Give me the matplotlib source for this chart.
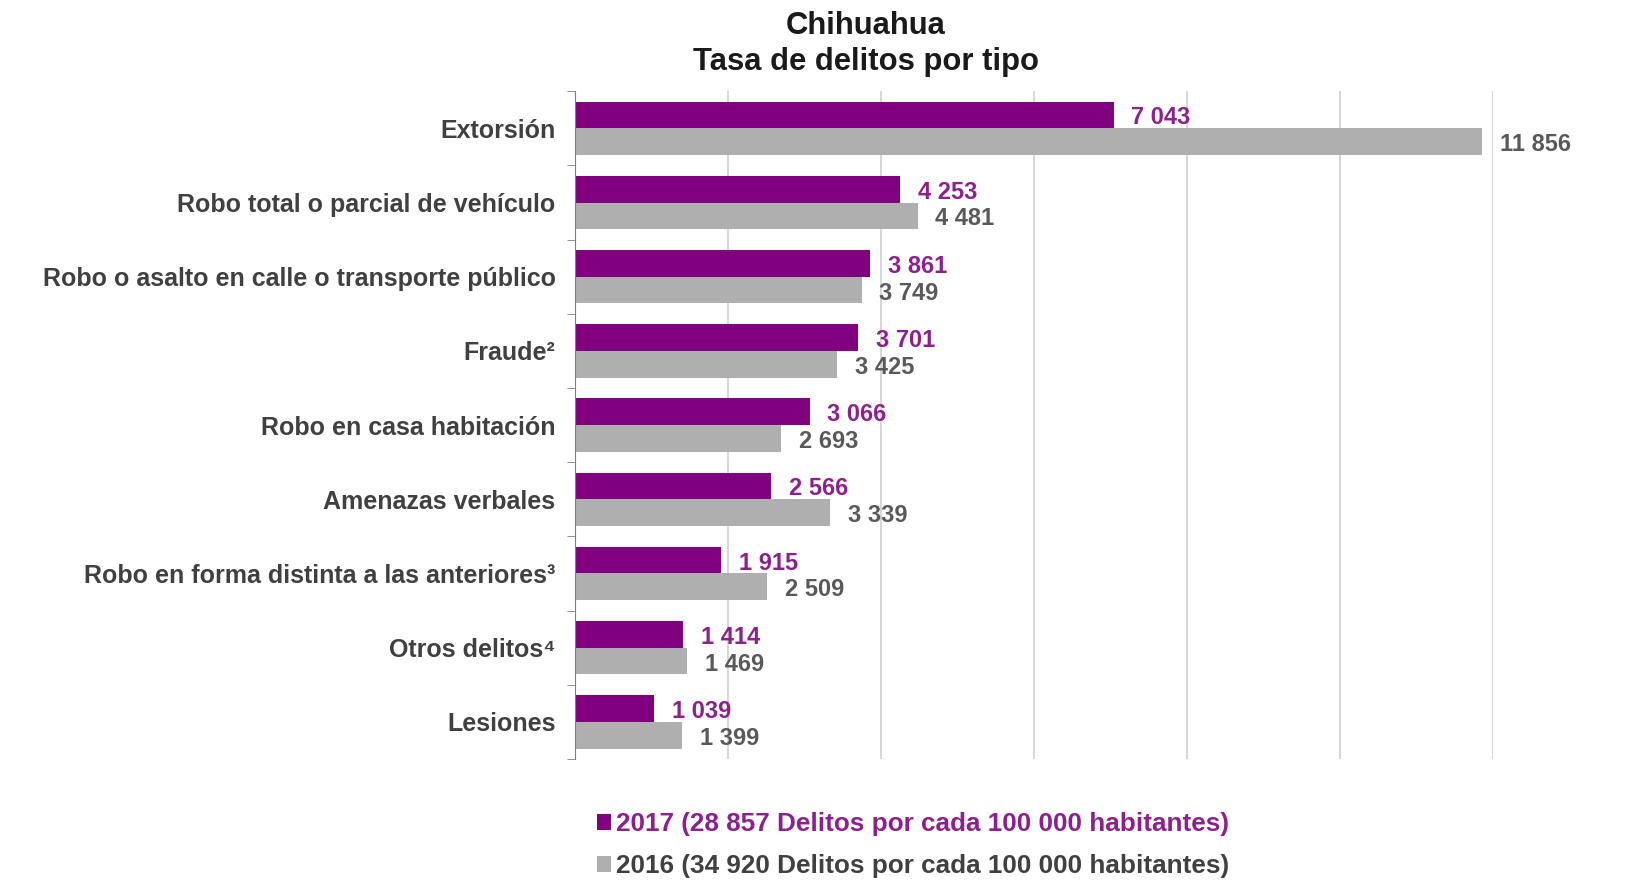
import matplotlib.pyplot as plt
import numpy as np

plt.rcParams['font.family'] = ['Liberation Sans', 'DejaVu Sans']

categorias = ["Extorsión", "Robo total o parcial de vehículo",
              "Robo o asalto en calle o transporte público", "Fraude²",
              "Robo en casa habitación", "Amenazas verbales",
              "Robo en forma distinta a las anteriores³", "Otros delitos⁴", "Lesiones"]
tasa_2017 = [7043, 4253, 3861, 3701, 3066, 2566, 1915, 1414, 1039]
tasa_2016 = [11856, 4481, 3749, 3425, 2693, 3339, 2509, 1469, 1399]
leyenda = ["2017 (28 857 Delitos por cada 100 000 habitantes)",
           "2016 (34 920 Delitos por cada 100 000 habitantes)"]

morado = "#800080"
gris = "#AFAFAF"
morado_txt = "#8E1F8E"
gris_txt = "#595959"

def fmt(v):
    return f"{v:,}".replace(",", " ")

fig = plt.figure(figsize=(16.27, 8.82), dpi=100)
ax = fig.add_axes([0.3534, 0.1395, 0.5642, 0.757])

y = np.arange(len(categorias))
h = 0.36
b1 = ax.barh(y - h / 2, tasa_2017, height=h, color=morado, label=leyenda[0])
b2 = ax.barh(y + h / 2, tasa_2016, height=h, color=gris, label=leyenda[1])

# etiquetas de valor
for i in range(len(categorias)):
    ax.text(tasa_2017[i] + 230, y[i] - h / 2 + 0.04, fmt(tasa_2017[i]), color=morado_txt,
            fontsize=17, fontweight="bold", va="center", ha="left")
    ax.text(tasa_2016[i] + 230, y[i] + h / 2 + 0.04, fmt(tasa_2016[i]), color=gris_txt,
            fontsize=17, fontweight="bold", va="center", ha="left")

ax.set_xlim(0, 12000)
ax.set_ylim(len(categorias) - 0.5, -0.5)
ax.set_xticks(range(2000, 12001, 2000))
ax.set_xticklabels([])
ax.tick_params(axis="x", length=0)
ax.grid(axis="x", color="#D0D0D0", linewidth=1.2)
ax.set_axisbelow(True)

ax.set_yticks(y)
ax.set_yticklabels(categorias, fontsize=18, fontweight="bold", color="#404040")
ax.tick_params(axis="y", which="major", length=0, pad=14)
ax.set_yticks(np.arange(-0.5, len(categorias), 1), minor=True)
ax.tick_params(axis="y", which="minor", length=6, color="#808080", direction="out")

for s in ["top", "right", "bottom"]:
    ax.spines[s].set_visible(False)
ax.spines["left"].set_color("#808080")

fig.text(0.532, 0.988, "Chihuahua\nTasa de delitos por tipo", ha="center", va="top",
         fontsize=22.3, fontweight="bold", color="#1A1A1A", linespacing=1.3)

leg = fig.legend(handles=[b1, b2], loc="upper left", bbox_to_anchor=(0.357, 0.097),
                 frameon=False, prop={"size": 18.8, "weight": "bold"},
                 handlelength=0.55, handleheight=0.55, handletextpad=0.2,
                 labelspacing=0.7, borderaxespad=0.2)
leg.get_texts()[0].set_color(morado_txt)
leg.get_texts()[1].set_color("#404040")

fig.savefig("out.png", dpi=100)
